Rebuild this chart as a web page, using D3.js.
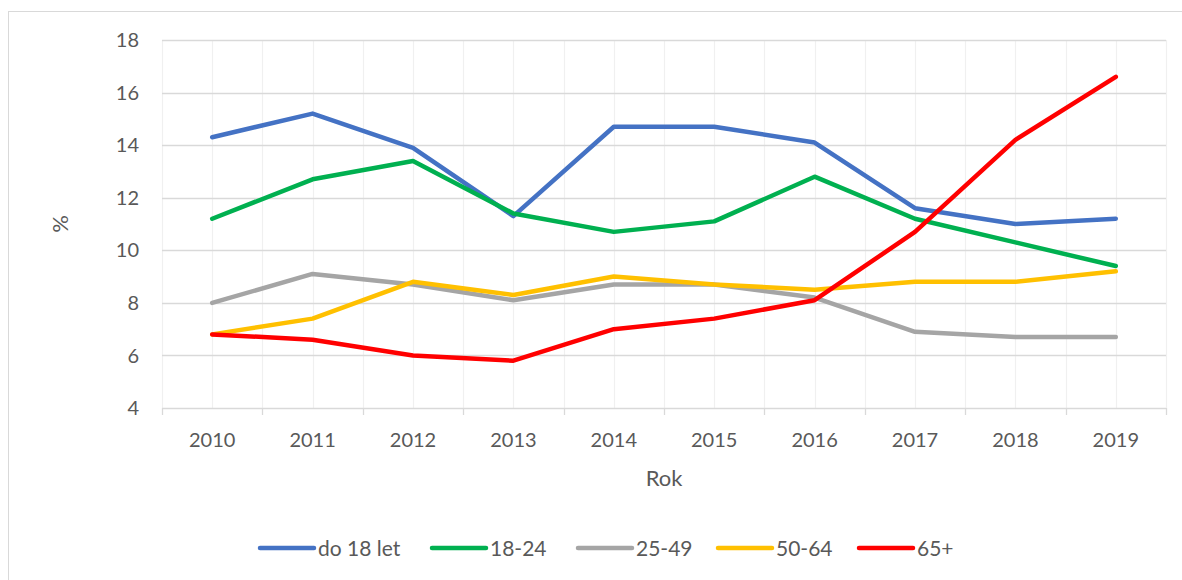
<!DOCTYPE html>
<html>
<head>
<meta charset="utf-8">
<script src="https://cdn.jsdelivr.net/npm/d3@7"></script>
<style>
  body { margin: 0; background: #fff; }
  text { font-family: Lato, "Open Sans", sans-serif; fill: #595959; }
</style>
</head>
<body>
<div id="chart"></div>
<script>
var years = ["2010", "2011", "2012", "2013", "2014", "2015", "2016", "2017", "2018", "2019"];
var seriesNames = ["do 18 let", "18-24", "25-49", "50-64", "65+"];
var under18 = [14.3, 15.2, 13.9, 11.3, 14.7, 14.7, 14.1, 11.6, 11.0, 11.2];
var age18to24 = [11.2, 12.7, 13.4, 11.4, 10.7, 11.1, 12.8, 11.2, 10.3, 9.4];
var age25to49 = [8.0, 9.1, 8.7, 8.1, 8.7, 8.7, 8.2, 6.9, 6.7, 6.7];
var age50to64 = [6.8, 7.4, 8.8, 8.3, 9.0, 8.7, 8.5, 8.8, 8.8, 9.2];
var age65plus = [6.8, 6.6, 6.0, 5.8, 7.0, 7.4, 8.1, 10.7, 14.2, 16.6];
var yTicks = [4, 6, 8, 10, 12, 14, 16, 18];

var colours = ["#4472c4", "#00b050", "#a5a5a5", "#ffc000", "#ff0000"];
var allSeries = [under18, age18to24, age25to49, age50to64, age65plus];

var width = 1182, height = 580;
var margin = { top: 40, right: 16, bottom: 172, left: 162 };

var svg = d3.select("#chart").append("svg")
    .attr("width", width)
    .attr("height", height);

// outer frame
svg.append("rect")
    .attr("x", 8.5).attr("y", 11.5)
    .attr("width", width).attr("height", height)
    .attr("fill", "none")
    .attr("stroke", "#d9d9d9");

var xScale = d3.scaleBand()
    .domain(years)
    .range([margin.left, width - margin.right]);

var yScale = d3.scaleLinear()
    .domain([4, 18])
    .range([height - margin.bottom, margin.top]);

var g = svg.append("g");

// minor vertical gridlines (band edges and centres)
var edges = years.map(function (d) { return xScale(d); }).concat([xScale.range()[1]]);
var centres = years.map(function (d) { return xScale(d) + xScale.bandwidth() / 2; });

g.selectAll(".vgrid")
    .data(edges.concat(centres))
    .enter().append("line")
    .attr("x1", function (d) { return Math.round(d) + 0.5; })
    .attr("x2", function (d) { return Math.round(d) + 0.5; })
    .attr("y1", yScale(18))
    .attr("y2", yScale(4))
    .attr("stroke", "#f0f0f0")
    .attr("stroke-width", 1.2);

// major horizontal gridlines
g.selectAll(".hgrid")
    .data(yTicks)
    .enter().append("line")
    .attr("x1", xScale.range()[0])
    .attr("x2", xScale.range()[1])
    .attr("y1", function (d) { return Math.round(yScale(d)) + 0.5; })
    .attr("y2", function (d) { return Math.round(yScale(d)) + 0.5; })
    .attr("stroke", "#d9d9d9")
    .attr("stroke-width", 1.3);

// x axis tick marks
g.selectAll(".xtick")
    .data(edges)
    .enter().append("line")
    .attr("x1", function (d) { return Math.round(d) + 0.5; })
    .attr("x2", function (d) { return Math.round(d) + 0.5; })
    .attr("y1", yScale(4))
    .attr("y2", yScale(4) + 7)
    .attr("stroke", "#d9d9d9")
    .attr("stroke-width", 1.3);

// y labels
g.selectAll(".ylabel")
    .data(yTicks)
    .enter().append("text")
    .attr("x", 139)
    .attr("y", function (d) { return yScale(d); })
    .attr("dy", "0.36em")
    .attr("text-anchor", "end")
    .style("font-size", "20px")
    .text(function (d) { return d; });

// x labels
g.selectAll(".xlabel")
    .data(years)
    .enter().append("text")
    .attr("x", function (d) { return xScale(d) + xScale.bandwidth() / 2; })
    .attr("y", yScale(4) + 39)
    .attr("text-anchor", "middle")
    .style("font-size", "20px")
    .text(function (d) { return d; });

// axis titles
svg.append("text")
    .attr("x", (xScale.range()[0] + xScale.range()[1]) / 2)
    .attr("y", 486)
    .attr("text-anchor", "middle")
    .style("font-size", "22px")
    .text("Rok");

svg.append("text")
    .attr("transform", "translate(68," + yScale(11) + ")rotate(-90)")
    .attr("text-anchor", "middle")
    .style("font-size", "22px")
    .text("%");

// lines
var line = d3.line()
    .x(function (d, i) { return xScale(years[i]) + xScale.bandwidth() / 2; })
    .y(function (d) { return yScale(d); });

allSeries.forEach(function (s, i) {
    g.append("path")
        .datum(s)
        .attr("fill", "none")
        .attr("stroke", colours[i])
        .attr("stroke-width", 4.5)
        .attr("stroke-linejoin", "round")
        .attr("stroke-linecap", "round")
        .attr("d", line);
});

// legend
var legendX = [260, 432, 578, 718, 859];
var legend = svg.append("g");
seriesNames.forEach(function (name, i) {
    var lg = legend.append("g").attr("transform", "translate(" + legendX[i] + ",548)");
    lg.append("line")
        .attr("x1", 0).attr("x2", 54)
        .attr("stroke", colours[i])
        .attr("stroke-width", 4.5)
        .attr("stroke-linecap", "round");
    lg.append("text")
        .attr("x", 58)
        .attr("dy", "0.36em")
        .style("font-size", "21px")
        .text(name);
});
</script>
</body>
</html>
